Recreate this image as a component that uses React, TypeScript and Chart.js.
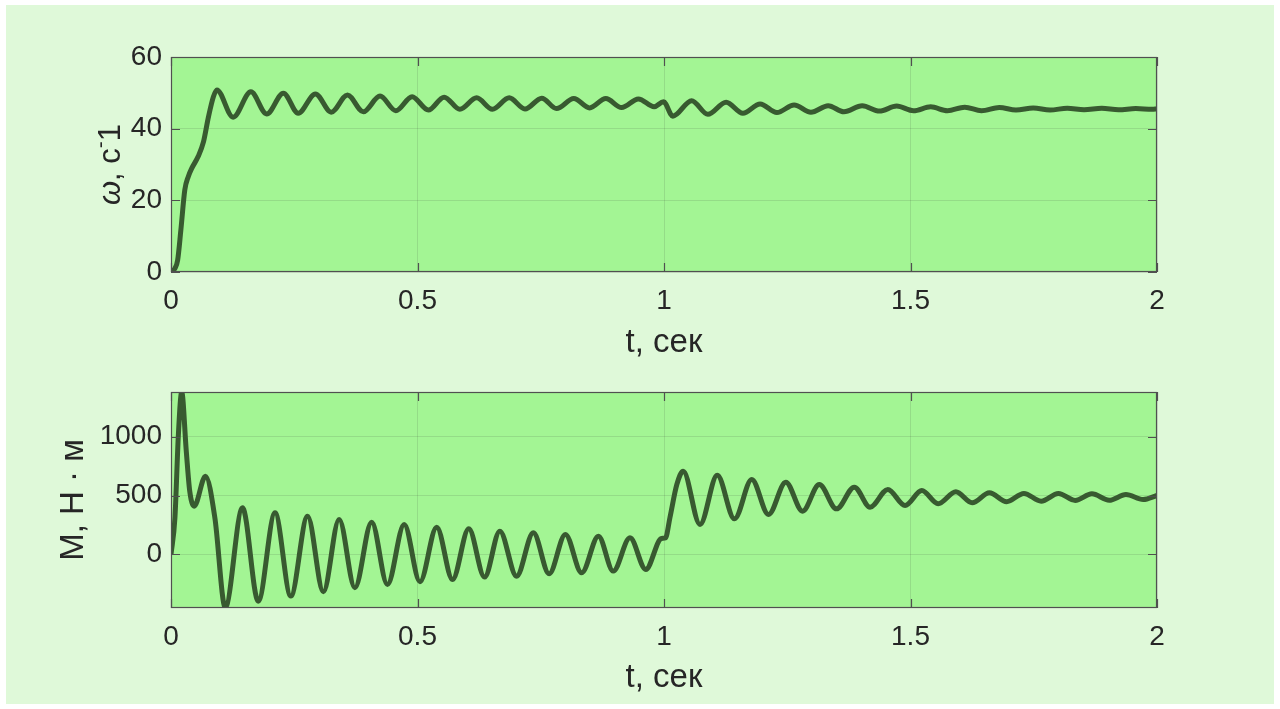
import React, { useEffect, useRef } from "react";
import { Chart, registerables } from "chart.js";

Chart.register(...registerables);

// ---------- data ----------
const omegaT = [
  0, 0.008, 0.0135, 0.02, 0.028, 0.035, 0.042, 0.055, 0.066, 0.076, 0.086, 0.093,
  0.126, 0.162, 0.194, 0.228, 0.258, 0.293, 0.325, 0.358, 0.39, 0.424, 0.456, 0.489,
  0.522, 0.554, 0.586, 0.62, 0.652, 0.686, 0.718, 0.752, 0.782, 0.817, 0.849, 0.882,
  0.914, 0.948, 0.98, 0.999, 1.018, 1.056, 1.089, 1.126, 1.16, 1.195, 1.229, 1.264,
  1.298, 1.333, 1.365, 1.402, 1.437, 1.472, 1.506, 1.541, 1.575, 1.61, 1.644, 1.68,
  1.714, 1.749, 1.783, 1.818, 1.852, 1.888, 1.922, 1.957, 1.99, 2.0,
];
const omegaV = [
  0, 1.0, 3.3, 11.7, 22.9, 26.6, 28.9, 32.2, 36.4, 43.3, 48.9, 50.8,
  43.2, 50.3, 44.1, 49.9, 44.3, 49.7, 44.6, 49.4, 44.7, 49.1, 45.0, 48.9,
  45.2, 48.8, 45.4, 48.6, 45.4, 48.6, 45.5, 48.5, 45.6, 48.4, 45.8, 48.4,
  45.9, 48.3, 46.1, 47.5, 43.5, 47.8, 44.0, 47.4, 44.3, 46.9, 44.5, 46.6,
  44.6, 46.4, 44.7, 46.4, 44.9, 46.3, 45.0, 46.1, 45.0, 46.0, 45.0, 45.9,
  45.2, 45.8, 45.2, 45.7, 45.3, 45.7, 45.3, 45.6, 45.4, 45.5,
];

const torqueT = [
  0, 0.008, 0.015, 0.0217, 0.031, 0.038, 0.047, 0.07, 0.089, 0.11, 0.145, 0.177,
  0.211, 0.243, 0.277, 0.309, 0.341, 0.373, 0.407, 0.439, 0.473, 0.505, 0.539, 0.571,
  0.604, 0.636, 0.667, 0.701, 0.735, 0.767, 0.8, 0.833, 0.867, 0.897, 0.931, 0.963,
  0.995, 1.003, 1.012, 1.026, 1.039, 1.073, 1.108, 1.143, 1.178, 1.212, 1.247, 1.281,
  1.315, 1.35, 1.386, 1.418, 1.454, 1.489, 1.523, 1.556, 1.592, 1.625, 1.66, 1.695,
  1.73, 1.765, 1.8, 1.834, 1.868, 1.903, 1.937, 1.972, 2.0,
];
const torqueV = [
  0, 313, 1017, 1378, 876, 537, 409, 664, 311, -450, 396, -396,
  353, -353, 325, -316, 297, -282, 274, -254, 254, -231, 231, -212,
  218, -192, 198, -184, 184, -164, 170, -155, 155, -141, 141, -127,
  136, 140, 311, 593, 706, 254, 672, 302, 636, 339, 613, 367,
  593, 387, 571, 401, 551, 415, 542, 430, 531, 438, 523, 447,
  518, 452, 517, 458, 514, 460, 508, 466, 500,
];

const xTicks = [0, 0.5, 1, 1.5, 2];
const omegaTicks = [0, 20, 40, 60];
const torqueTicks = [0, 500, 1000];

// ---------- style ----------
const FIG_BG = "#dff9d9";
const PLOT_BG = "#a3f594";
const LINE = "#385a30";
const TEXT = "#262626";
const FRAME = "#505050";
const GRID = "rgba(38,38,38,0.12)";
const FONT = "'Liberation Sans', Arial, Helvetica, sans-serif";
const TICK_SIZE = 28;
const LABEL_SIZE = 33;

type Part = { t: string; font: string; dy?: number };

const framePlugin = {
  id: "frame",
  beforeDraw(chart: any) {
    const { ctx, chartArea: a } = chart;
    ctx.save();
    ctx.fillStyle = PLOT_BG;
    ctx.fillRect(a.left, a.top, a.right - a.left, a.bottom - a.top);
    ctx.restore();
  },
  afterDraw(chart: any, _args: any, opts: any) {
    const { ctx, chartArea: a } = chart;
    const xs = chart.scales.x;
    const ys = chart.scales.y;
    ctx.save();
    ctx.strokeStyle = FRAME;
    ctx.lineWidth = 1.2;
    ctx.strokeRect(a.left + 0.5, a.top + 0.5, a.right - a.left - 1, a.bottom - a.top - 1);
    // inward tick marks
    const tl = 9;
    ctx.beginPath();
    for (const v of opts.xTicks) {
      const px = Math.round(xs.getPixelForValue(v)) + 0.5;
      ctx.moveTo(px, a.bottom);
      ctx.lineTo(px, a.bottom - tl);
      ctx.moveTo(px, a.top);
      ctx.lineTo(px, a.top + tl);
    }
    for (const v of opts.yTicks) {
      const py = Math.round(ys.getPixelForValue(v)) + 0.5;
      ctx.moveTo(a.left, py);
      ctx.lineTo(a.left + tl, py);
      ctx.moveTo(a.right, py);
      ctx.lineTo(a.right - tl, py);
    }
    ctx.stroke();

    // x title
    ctx.fillStyle = TEXT;
    ctx.textAlign = "center";
    ctx.textBaseline = "middle";
    ctx.font = `${LABEL_SIZE}px ${FONT}`;
    ctx.fillText(opts.xTitle, (a.left + a.right) / 2, a.bottom + opts.xTitleOffset);

    // y title (rotated, multi-font)
    const parts: Part[] = opts.yTitle;
    let total = 0;
    const widths = parts.map((p) => {
      ctx.font = p.font;
      const w = ctx.measureText(p.t).width;
      total += w;
      return w;
    });
    ctx.translate(a.left + opts.yTitleOffset, (a.top + a.bottom) / 2);
    ctx.rotate(-Math.PI / 2);
    ctx.textAlign = "left";
    ctx.textBaseline = "middle";
    let x = -total / 2;
    parts.forEach((p, i) => {
      ctx.font = p.font;
      ctx.fillText(p.t, x, p.dy || 0);
      x += widths[i];
    });
    ctx.restore();
  },
};

const zeroPad = (s: any) => {
  s.paddingTop = 0;
  s.paddingBottom = 0;
  s.paddingLeft = 0;
  s.paddingRight = 0;
};

function makeConfig(
  t: number[],
  v: number[],
  yMin: number,
  yMax: number,
  yTicks: number[],
  padTop: number,
  xAxisH: number,
  yTitle: Part[],
  yTitleOffset: number,
  xTitleOffset: number
): any {
  return {
    type: "line",
    data: {
      datasets: [
        {
          data: t.map((tt, i) => ({ x: tt, y: v[i] })),
          borderColor: LINE,
          borderWidth: 5,
          pointRadius: 0,
          cubicInterpolationMode: "monotone",
          fill: false,
          clip: 0,
        },
      ],
    },
    options: {
      animation: false,
      responsive: false,
      layout: { padding: { top: padTop, right: 117, left: 0, bottom: 0 } },
      plugins: {
        legend: { display: false },
        tooltip: { enabled: false },
        frame: {
          xTicks,
          yTicks,
          xTitle: "t, сек",
          xTitleOffset,
          yTitle,
          yTitleOffset,
        },
      },
      scales: {
        x: {
          type: "linear",
          min: 0,
          max: 2,
          afterBuildTicks: (s: any) => {
            s.ticks = xTicks.map((value) => ({ value }));
          },
          afterFit: (s: any) => {
            s.height = xAxisH;
            zeroPad(s);
          },
          grid: { color: GRID, drawTicks: false, lineWidth: 1 },
          border: { display: false },
          ticks: {
            padding: 12,
            color: TEXT,
            font: { family: FONT, size: TICK_SIZE },
            maxRotation: 0,
            callback: (val: number) => String(val),
          },
        },
        y: {
          type: "linear",
          min: yMin,
          max: yMax,
          afterBuildTicks: (s: any) => {
            s.ticks = yTicks.map((value) => ({ value }));
          },
          afterFit: (s: any) => {
            s.width = 165;
            zeroPad(s);
          },
          grid: { color: GRID, drawTicks: false, lineWidth: 1 },
          border: { display: false },
          ticks: {
            padding: 9,
            color: TEXT,
            font: { family: FONT, size: TICK_SIZE },
            callback: (val: number) => String(val),
          },
        },
      },
    },
    plugins: [framePlugin],
  };
}

function App() {
  const topRef = useRef<HTMLCanvasElement>(null);
  const botRef = useRef<HTMLCanvasElement>(null);

  useEffect(() => {
    const f = (s: number, style = "") => `${style}${s}px ${FONT}`;
    const c1 = new Chart(
      topRef.current!,
      makeConfig(
        omegaT,
        omegaV,
        0,
        60,
        omegaTicks,
        52,
        103,
        [
          { t: "ω", font: f(31, "italic ") },
          { t: ", с", font: f(31) },
          { t: "-", font: f(21), dy: -10 },
          { t: "1", font: f(31) },
        ],
        -60,
        71
      )
    );
    const c2 = new Chart(
      botRef.current!,
      makeConfig(
        torqueT,
        torqueV,
        -454,
        1378,
        torqueTicks,
        17,
        96,
        [{ t: "M, Н · м", font: f(LABEL_SIZE) }],
        -97,
        70
      )
    );
    return () => {
      c1.destroy();
      c2.destroy();
    };
  }, []);

  return (
    <div
      style={{
        position: "absolute",
        left: 0,
        top: 0,
        width: 1280,
        height: 709,
        background: "#ffffff",
        overflow: "hidden",
      }}
    >
      <div
        style={{
          position: "absolute",
          left: 6,
          top: 5,
          width: 1268,
          height: 699,
          background: FIG_BG,
        }}
      >
        <canvas
          ref={topRef}
          width={1268}
          height={370}
          style={{ position: "absolute", left: 0, top: 0, width: 1268, height: 370 }}
        />
        <canvas
          ref={botRef}
          width={1268}
          height={329}
          style={{ position: "absolute", left: 0, top: 370, width: 1268, height: 329 }}
        />
      </div>
    </div>
  );
}

export default App;
